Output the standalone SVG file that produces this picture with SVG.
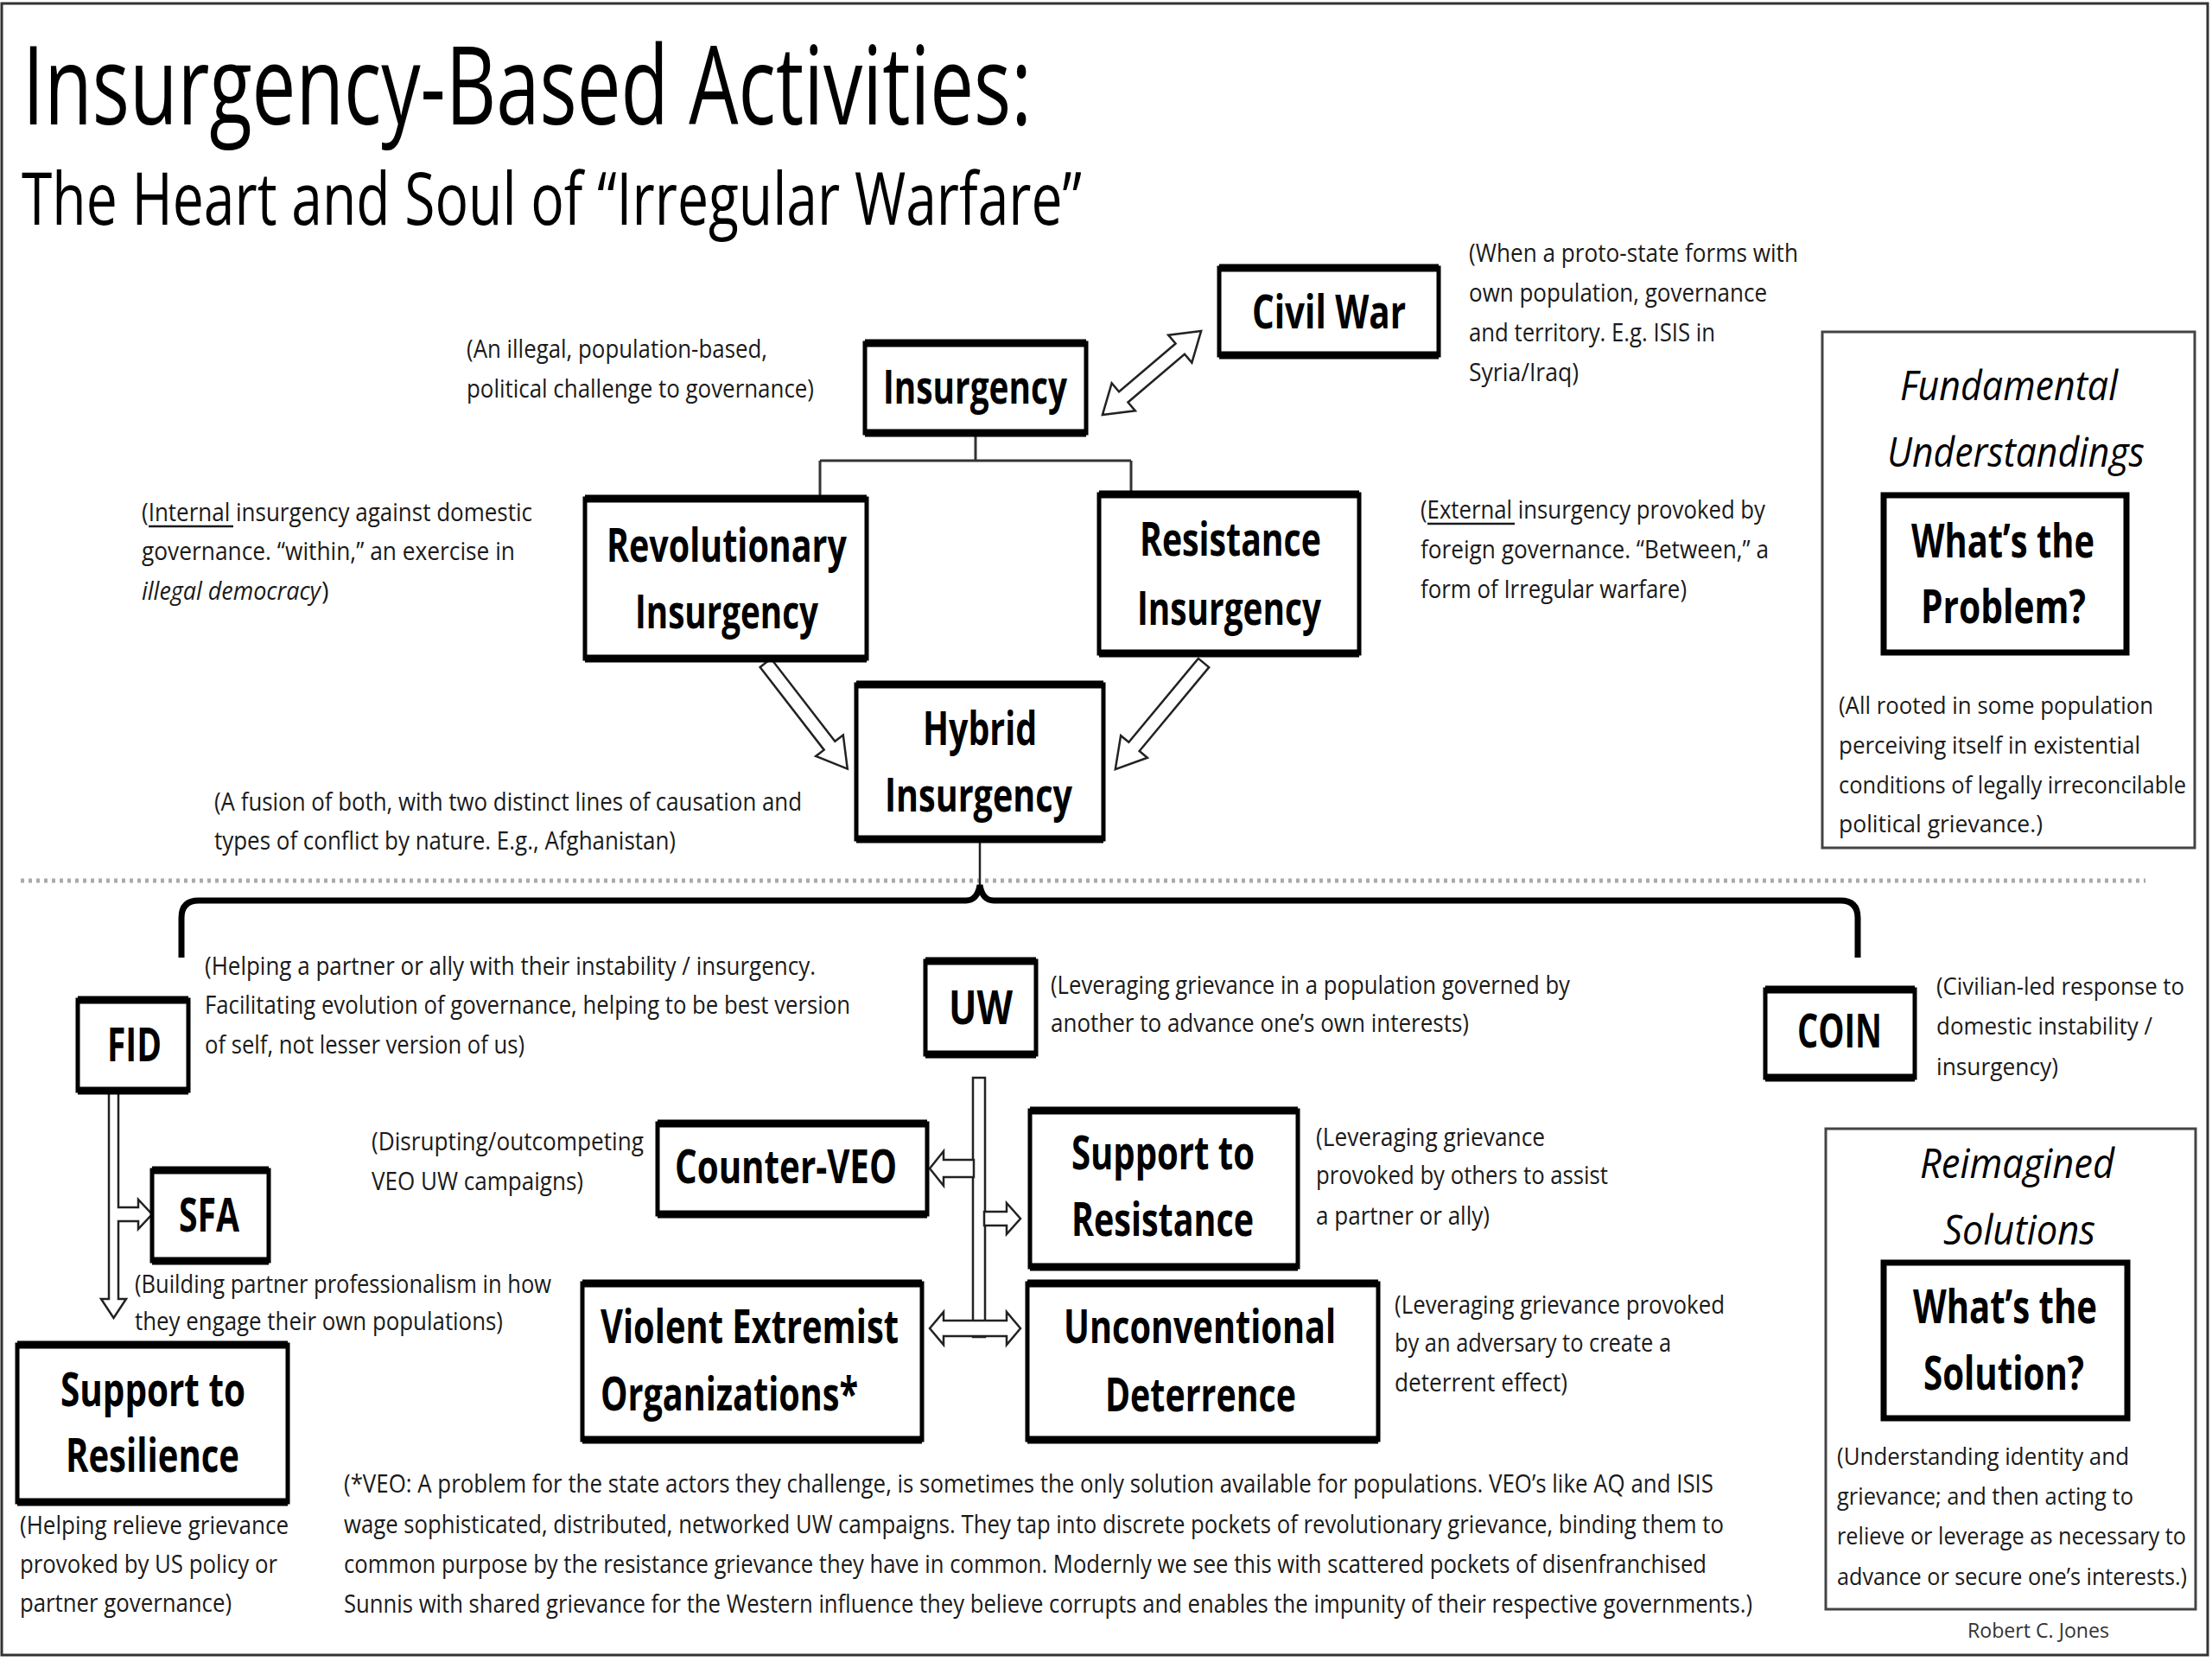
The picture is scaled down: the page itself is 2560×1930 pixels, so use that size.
<svg xmlns="http://www.w3.org/2000/svg" width="2560" height="1930" viewBox="0 0 2560 1930">
<style>
.t{font-family:"Open Sans","Liberation Sans",sans-serif;fill:#000}
.title1{font-size:127px}
.title2{font-size:85px}
.nt{font-family:"Open Sans","Liberation Sans",sans-serif;font-weight:700;font-size:53px;fill:#000}
.an{font-family:"Open Sans","Liberation Sans",sans-serif;font-size:29px;fill:#1a1a1a}
.ai{font-style:italic}
.rs{font-family:"Open Sans","Liberation Sans",sans-serif;font-size:28px;fill:#1a1a1a}
.it{font-family:"Open Sans","Liberation Sans",sans-serif;font-style:italic;font-size:48px;fill:#000}
.sm{font-family:"Open Sans","Liberation Sans",sans-serif;font-size:24px;fill:#333}
.box{fill:#fff;stroke:#000;stroke-width:5}
.edge{fill:none;stroke:#000;stroke-width:9}
.thick{fill:#fff;stroke:#000;stroke-width:7}
.thin{fill:none;stroke:#444;stroke-width:3}
.frame{fill:none;stroke:#333;stroke-width:3}
.ha{fill:#fff;stroke:#222;stroke-width:2.5;stroke-linejoin:miter}
.ln{fill:none;stroke:#333;stroke-width:3}
.ul{stroke:#1a1a1a;stroke-width:2.5}
</style>
<rect class="frame" x="2" y="4" width="2553" height="1911"/>

<g id="title">
<text class="t title1" x="26" y="144" textLength="1168" lengthAdjust="spacingAndGlyphs">Insurgency-Based Activities:</text>
<text class="t title2" x="25" y="260" textLength="1227" lengthAdjust="spacingAndGlyphs">The Heart and Soul of “Irregular Warfare”</text>
</g>

<g id="connectors">
<polygon class="ha" points="-75,0 -43,-21 -43,-8 43,-8 43,-21 75,0 43,21 43,8 -43,8 -43,21" transform="translate(1333,431.5) rotate(-40.4)"/>
<path class="ln" d="M1129,501V533M949,533H1309M949,533V578M1309,533V573"/>
<polygon class="ha" points="0,-8 121,-8 121,-20 155,0 121,20 121,8 0,8" transform="translate(886,767) rotate(52.3)"/>
<polygon class="ha" points="0,-8 126,-8 126,-20 160,0 126,20 126,8 0,8" transform="translate(1393,767) rotate(129.7)"/>
<path d="M24,1019H2483" fill="none" stroke="#aaa" stroke-width="5" stroke-dasharray="4 5"/>
<path d="M1134,971V1026" fill="none" stroke="#222" stroke-width="2.5"/>
<path d="M210,1108V1062Q210,1042 230,1042H1118Q1131,1042 1134,1024Q1137,1042 1150,1042H2130Q2150,1042 2150,1062V1108" fill="none" stroke="#000" stroke-width="7"/>
<polygon class="ha" points="126,1263 126,1503 117,1503 131.5,1525 146,1503 137,1503 137,1413 160,1413 160,1422 176,1405 160,1388 160,1397 137,1397 137,1263"/>
<rect class="ha" x="1126" y="1247" width="14" height="300"/>
<polygon class="ha" points="1127,1342 1092,1342 1092,1332 1076,1352 1092,1372 1092,1362 1127,1362"/>
<polygon class="ha" points="1139,1402 1165,1402 1165,1392 1181,1410 1165,1428 1165,1418 1139,1418"/>
<polygon class="ha" points="1092,1528 1165,1528 1165,1518 1181,1537 1165,1556 1165,1546 1092,1546 1092,1556 1076,1537 1092,1518"/>
</g>

<g id="civil-war">
<rect class="box" x="1411" y="310" width="254" height="101"/><path class="edge" d="M1411,310h254M1411,411h254"/>
<text class="nt" x="1449" y="380" textLength="178" lengthAdjust="spacingAndGlyphs">Civil War</text>
</g>
<g id="insurgency">
<rect class="box" x="1001" y="397" width="256" height="104"/><path class="edge" d="M1001,397h256M1001,501h256"/>
<text class="nt" x="1022" y="467" textLength="213" lengthAdjust="spacingAndGlyphs">Insurgency</text>
</g>
<g id="revolutionary">
<rect class="box" x="677" y="577" width="326" height="185"/><path class="edge" d="M677,577h326M677,762h326"/>
<text class="nt" x="702" y="650" textLength="278" lengthAdjust="spacingAndGlyphs">Revolutionary</text>
<text class="nt" x="735" y="727" textLength="212" lengthAdjust="spacingAndGlyphs">Insurgency</text>
</g>
<g id="resistance">
<rect class="box" x="1272" y="572" width="301" height="184"/><path class="edge" d="M1272,572h301M1272,756h301"/>
<text class="nt" x="1319" y="643" textLength="210" lengthAdjust="spacingAndGlyphs">Resistance</text>
<text class="nt" x="1316" y="723" textLength="213" lengthAdjust="spacingAndGlyphs">Insurgency</text>
</g>
<g id="hybrid">
<rect class="box" x="991" y="792" width="286" height="179"/><path class="edge" d="M991,792h286M991,971h286"/>
<text class="nt" x="1068" y="862" textLength="132" lengthAdjust="spacingAndGlyphs">Hybrid</text>
<text class="nt" x="1024" y="939" textLength="217" lengthAdjust="spacingAndGlyphs">Insurgency</text>
</g>
<g id="fid">
<rect class="box" x="90" y="1157" width="128" height="105"/><path class="edge" d="M90,1157h128M90,1262h128"/>
<text class="nt" x="124" y="1228" textLength="63" lengthAdjust="spacingAndGlyphs">FID</text>
</g>
<g id="sfa">
<rect class="box" x="176" y="1354" width="135" height="105"/><path class="edge" d="M176,1354h135M176,1459h135"/>
<text class="nt" x="207" y="1425" textLength="70" lengthAdjust="spacingAndGlyphs">SFA</text>
</g>
<g id="support-resilience">
<rect class="box" x="20" y="1556" width="313" height="182"/><path class="edge" d="M20,1556h313M20,1738h313"/>
<text class="nt" x="70" y="1627" textLength="214" lengthAdjust="spacingAndGlyphs">Support to</text>
<text class="nt" x="76" y="1703" textLength="201" lengthAdjust="spacingAndGlyphs">Resilience</text>
</g>
<g id="uw">
<rect class="box" x="1071" y="1112" width="128" height="108"/><path class="edge" d="M1071,1112h128M1071,1220h128"/>
<text class="nt" x="1098" y="1185" textLength="74" lengthAdjust="spacingAndGlyphs">UW</text>
</g>
<g id="coin">
<rect class="box" x="2043" y="1145" width="173" height="102"/><path class="edge" d="M2043,1145h173M2043,1247h173"/>
<text class="nt" x="2080" y="1212" textLength="98" lengthAdjust="spacingAndGlyphs">COIN</text>
</g>
<g id="counter-veo">
<rect class="box" x="761" y="1300" width="312" height="105"/><path class="edge" d="M761,1300h312M761,1405h312"/>
<text class="nt" x="781" y="1369" textLength="257" lengthAdjust="spacingAndGlyphs">Counter-VEO</text>
</g>
<g id="support-resistance">
<rect class="box" x="1192" y="1285" width="310" height="181"/><path class="edge" d="M1192,1285h310M1192,1466h310"/>
<text class="nt" x="1240" y="1353" textLength="212" lengthAdjust="spacingAndGlyphs">Support to</text>
<text class="nt" x="1240" y="1430" textLength="211" lengthAdjust="spacingAndGlyphs">Resistance</text>
</g>
<g id="veo">
<rect class="box" x="674" y="1485" width="393" height="181"/><path class="edge" d="M674,1485h393M674,1666h393"/>
<text class="nt" x="695" y="1554" textLength="345" lengthAdjust="spacingAndGlyphs">Violent Extremist</text>
<text class="nt" x="695" y="1632" textLength="298" lengthAdjust="spacingAndGlyphs">Organizations*</text>
</g>
<g id="unconventional-deterrence">
<rect class="box" x="1189" y="1485" width="406" height="181"/><path class="edge" d="M1189,1485h406M1189,1666h406"/>
<text class="nt" x="1231" y="1554" textLength="315" lengthAdjust="spacingAndGlyphs">Unconventional</text>
<text class="nt" x="1279" y="1633" textLength="221" lengthAdjust="spacingAndGlyphs">Deterrence</text>
</g>

<g id="fundamental-understandings">
<rect class="thin" x="2109" y="384" width="431" height="597"/>
<text class="it" x="2199" y="463" textLength="252" lengthAdjust="spacingAndGlyphs">Fundamental</text>
<text class="it" x="2184" y="540" textLength="298" lengthAdjust="spacingAndGlyphs">Understandings</text>
<rect class="thick" x="2180" y="573" width="281" height="182"/>
<text class="nt" x="2212" y="645" textLength="212" lengthAdjust="spacingAndGlyphs">What’s the</text>
<text class="nt" x="2223" y="721" textLength="191" lengthAdjust="spacingAndGlyphs">Problem?</text>
<text class="rs" x="2128" y="826" textLength="364" lengthAdjust="spacingAndGlyphs">(All rooted in some population</text>
<text class="rs" x="2128" y="872" textLength="349" lengthAdjust="spacingAndGlyphs">perceiving itself in existential</text>
<text class="rs" x="2128" y="918" textLength="402" lengthAdjust="spacingAndGlyphs">conditions of legally irreconcilable</text>
<text class="rs" x="2128" y="963" textLength="236" lengthAdjust="spacingAndGlyphs">political grievance.)</text>
</g>

<g id="reimagined-solutions">
<rect class="thin" x="2113" y="1306" width="428" height="556"/>
<text class="it" x="2222" y="1363" textLength="225" lengthAdjust="spacingAndGlyphs">Reimagined</text>
<text class="it" x="2249" y="1440" textLength="176" lengthAdjust="spacingAndGlyphs">Solutions</text>
<rect class="thick" x="2180" y="1461" width="282" height="180"/>
<text class="nt" x="2214" y="1531" textLength="213" lengthAdjust="spacingAndGlyphs">What’s the</text>
<text class="nt" x="2226" y="1608" textLength="186" lengthAdjust="spacingAndGlyphs">Solution?</text>
<text class="rs" x="2126" y="1695" textLength="338" lengthAdjust="spacingAndGlyphs">(Understanding identity and</text>
<text class="rs" x="2126" y="1741" textLength="343" lengthAdjust="spacingAndGlyphs">grievance; and then acting to</text>
<text class="rs" x="2126" y="1787" textLength="404" lengthAdjust="spacingAndGlyphs">relieve or leverage as necessary to</text>
<text class="rs" x="2126" y="1834" textLength="405" lengthAdjust="spacingAndGlyphs">advance or secure one’s interests.)</text>
</g>
<text class="sm" x="2277" y="1895" textLength="164" lengthAdjust="spacingAndGlyphs">Robert C. Jones</text>

<g id="annotations">
<text class="an" x="540" y="414" textLength="348" lengthAdjust="spacingAndGlyphs">(An illegal, population-based,</text>
<text class="an" x="540" y="460" textLength="402" lengthAdjust="spacingAndGlyphs">political challenge to governance)</text>

<text class="an" x="1700" y="303" textLength="381" lengthAdjust="spacingAndGlyphs">(When a proto-state forms with</text>
<text class="an" x="1700" y="349" textLength="345" lengthAdjust="spacingAndGlyphs">own population, governance</text>
<text class="an" x="1700" y="395" textLength="285" lengthAdjust="spacingAndGlyphs">and territory. E.g. ISIS in</text>
<text class="an" x="1700" y="441" textLength="127" lengthAdjust="spacingAndGlyphs">Syria/Iraq)</text>

<text class="an" x="164" y="603" textLength="452" lengthAdjust="spacingAndGlyphs">(Internal insurgency against domestic</text>
<line class="ul" x1="172" y1="609" x2="270" y2="609"/>
<text class="an" x="164" y="648" textLength="432" lengthAdjust="spacingAndGlyphs">governance. “within,” an exercise in</text>
<text class="an ai" x="164" y="694" textLength="207" lengthAdjust="spacingAndGlyphs">illegal democracy</text>
<text class="an" x="372" y="694">)</text>

<text class="an" x="1644" y="600" textLength="399" lengthAdjust="spacingAndGlyphs">(External insurgency provoked by</text>
<line class="ul" x1="1652" y1="606" x2="1753" y2="606"/>
<text class="an" x="1644" y="646" textLength="403" lengthAdjust="spacingAndGlyphs">foreign governance. “Between,” a</text>
<text class="an" x="1644" y="692" textLength="308" lengthAdjust="spacingAndGlyphs">form of Irregular warfare)</text>

<text class="an" x="248" y="938" textLength="680" lengthAdjust="spacingAndGlyphs">(A fusion of both, with two distinct lines of causation and</text>
<text class="an" x="248" y="983" textLength="534" lengthAdjust="spacingAndGlyphs">types of conflict by nature. E.g., Afghanistan)</text>

<text class="an" x="237" y="1128" textLength="707" lengthAdjust="spacingAndGlyphs">(Helping a partner or ally with their instability / insurgency.</text>
<text class="an" x="237" y="1173" textLength="747" lengthAdjust="spacingAndGlyphs">Facilitating evolution of governance, helping to be best version</text>
<text class="an" x="237" y="1219" textLength="370" lengthAdjust="spacingAndGlyphs">of self, not lesser version of us)</text>

<text class="an" x="1216" y="1150" textLength="601" lengthAdjust="spacingAndGlyphs">(Leveraging grievance in a population governed by</text>
<text class="an" x="1216" y="1194" textLength="484" lengthAdjust="spacingAndGlyphs">another to advance one’s own interests)</text>

<text class="rs" x="2241" y="1151" textLength="287" lengthAdjust="spacingAndGlyphs">(Civilian-led response to</text>
<text class="rs" x="2241" y="1197" textLength="250" lengthAdjust="spacingAndGlyphs">domestic instability /</text>
<text class="rs" x="2241" y="1244" textLength="141" lengthAdjust="spacingAndGlyphs">insurgency)</text>

<text class="an" x="430" y="1331" textLength="315" lengthAdjust="spacingAndGlyphs">(Disrupting/outcompeting</text>
<text class="an" x="430" y="1377" textLength="245" lengthAdjust="spacingAndGlyphs">VEO UW campaigns)</text>

<text class="an" x="1523" y="1326" textLength="265" lengthAdjust="spacingAndGlyphs">(Leveraging grievance</text>
<text class="an" x="1523" y="1370" textLength="338" lengthAdjust="spacingAndGlyphs">provoked by others to assist</text>
<text class="an" x="1523" y="1417" textLength="201" lengthAdjust="spacingAndGlyphs">a partner or ally)</text>

<text class="an" x="156" y="1496" textLength="482" lengthAdjust="spacingAndGlyphs">(Building partner professionalism in how</text>
<text class="an" x="156" y="1539" textLength="426" lengthAdjust="spacingAndGlyphs">they engage their own populations)</text>

<text class="an" x="1614" y="1520" textLength="382" lengthAdjust="spacingAndGlyphs">(Leveraging grievance provoked</text>
<text class="an" x="1614" y="1564" textLength="320" lengthAdjust="spacingAndGlyphs">by an adversary to create a</text>
<text class="an" x="1614" y="1610" textLength="200" lengthAdjust="spacingAndGlyphs">deterrent effect)</text>

<text class="an" x="23" y="1775" textLength="311" lengthAdjust="spacingAndGlyphs">(Helping relieve grievance</text>
<text class="an" x="23" y="1820" textLength="298" lengthAdjust="spacingAndGlyphs">provoked by US policy or</text>
<text class="an" x="23" y="1865" textLength="245" lengthAdjust="spacingAndGlyphs">partner governance)</text>

<text class="an" x="398" y="1727" textLength="1585" lengthAdjust="spacingAndGlyphs">(*VEO: A problem for the state actors they challenge, is sometimes the only solution available for populations. VEO’s like AQ and ISIS</text>
<text class="an" x="398" y="1774" textLength="1597" lengthAdjust="spacingAndGlyphs">wage sophisticated, distributed, networked UW campaigns. They tap into discrete pockets of revolutionary grievance, binding them to</text>
<text class="an" x="398" y="1820" textLength="1577" lengthAdjust="spacingAndGlyphs">common purpose by the resistance grievance they have in common. Modernly we see this with scattered pockets of disenfranchised</text>
<text class="an" x="398" y="1866" textLength="1630" lengthAdjust="spacingAndGlyphs">Sunnis with shared grievance for the Western influence they believe corrupts and enables the impunity of their respective governments.)</text>
</g>
</svg>
